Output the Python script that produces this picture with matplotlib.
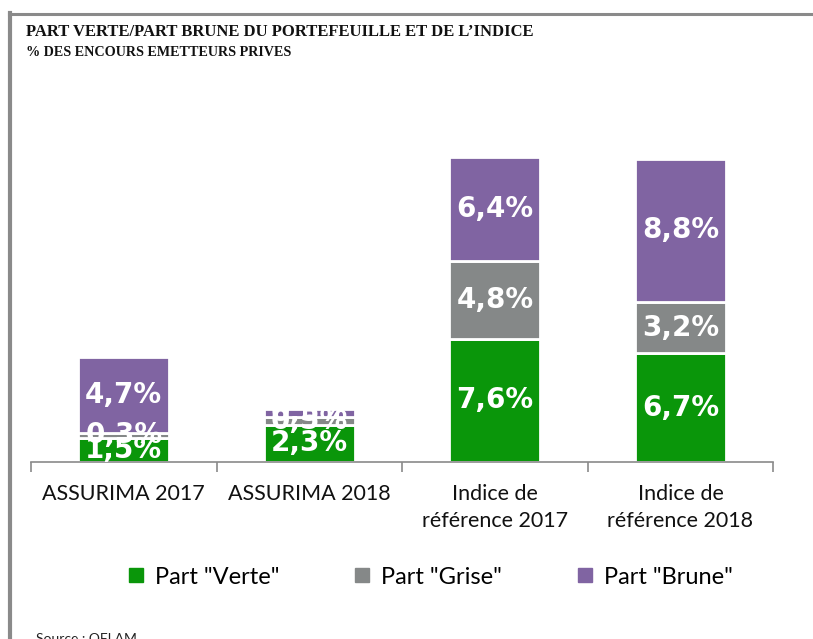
import numpy as np
import matplotlib
matplotlib.use("Agg")
import matplotlib.pyplot as plt
from matplotlib.lines import Line2D

# data (% of outstanding private issuers)
categories = ["ASSURIMA 2017", "ASSURIMA 2018", "Indice de\nréférence 2017", "Indice de\nréférence 2018"]
verte = [1.5, 2.3, 7.6, 6.7]
grise = [0.3, 0.5, 4.8, 3.2]
brune = [4.7, 0.5, 6.4, 8.8]
series_names = ['Part "Verte"', 'Part "Grise"', 'Part "Brune"']
colors = ["#0A960A", "#858888", "#8064A2"]

fig = plt.figure(figsize=(8.13, 6.39), dpi=100)
ax = fig.add_axes([0.0381, 0.277, 0.913, 0.507])

x = np.arange(len(categories))
bottom = np.zeros(len(categories))
for vals, name, col in zip([verte, grise, brune], series_names, colors):
    bars = ax.bar(x, vals, width=0.49, bottom=bottom, color=col,
                  edgecolor="white", linewidth=2, label=name)
    labels = [("%.1f%%" % v).replace(".", ",") for v in vals]
    ax.bar_label(bars, labels=labels, label_type="center", color="white",
                 fontsize=20, fontweight="bold", family="DejaVu Sans")
    bottom += np.array(vals)

ax.set_xlim(-0.5, 3.5)
ax.set_ylim(0, 20)
ax.set_yticks([])
for s in ["top", "right", "left"]:
    ax.spines[s].set_visible(False)
ax.spines["bottom"].set_color("#8a8a8a")
ax.spines["bottom"].set_linewidth(1.2)

ax.set_xticks(x)
ax.set_xticklabels(categories, fontsize=15.5, family="Lato", color="#111111",
                   linespacing=1.45)
ax.tick_params(axis="x", which="major", length=0, pad=16)
ax.set_xticks(np.arange(-0.5, 4, 1.0), minor=True)
ax.tick_params(axis="x", which="minor", length=7, width=1.2, color="#8a8a8a", direction="out")

handles = [Line2D([0], [0], marker="s", linestyle="none", markersize=10,
                  markerfacecolor=c, markeredgecolor=c) for c in colors]
fig.legend(handles, series_names, loc="center", bbox_to_anchor=(0.527, 0.097),
           ncol=3, frameon=False, prop={"family": "Lato", "size": 17},
           columnspacing=3.0, handletextpad=0.3, handlelength=1.0)

# titles
fig.text(0.032, 0.95, "PART VERTE/PART BRUNE DU PORTEFEUILLE ET DE L\u2019INDICE",
         fontsize=12, fontweight="bold", family="Liberation Serif",
         color="#111111", va="center")
fig.text(0.032, 0.918, "% DES ENCOURS EMETTEURS PRIVES",
         fontsize=10.2, fontweight="bold", family="Liberation Serif",
         color="#111111", va="center")
fig.text(0.044, 0.0, "Source : OFLAM", fontsize=10, family="Lato",
         color="#222222", va="center")

# gray frame around the chart (left and top visible)
fig.add_artist(Line2D([0.0123, 0.0123], [0.0, 0.979], transform=fig.transFigure,
                      color="#8a8a8a", linewidth=3))
fig.add_artist(Line2D([0.0105, 0.999], [0.978, 0.978], transform=fig.transFigure,
                      color="#8a8a8a", linewidth=2.2))

fig.savefig("out.png", dpi=100)
